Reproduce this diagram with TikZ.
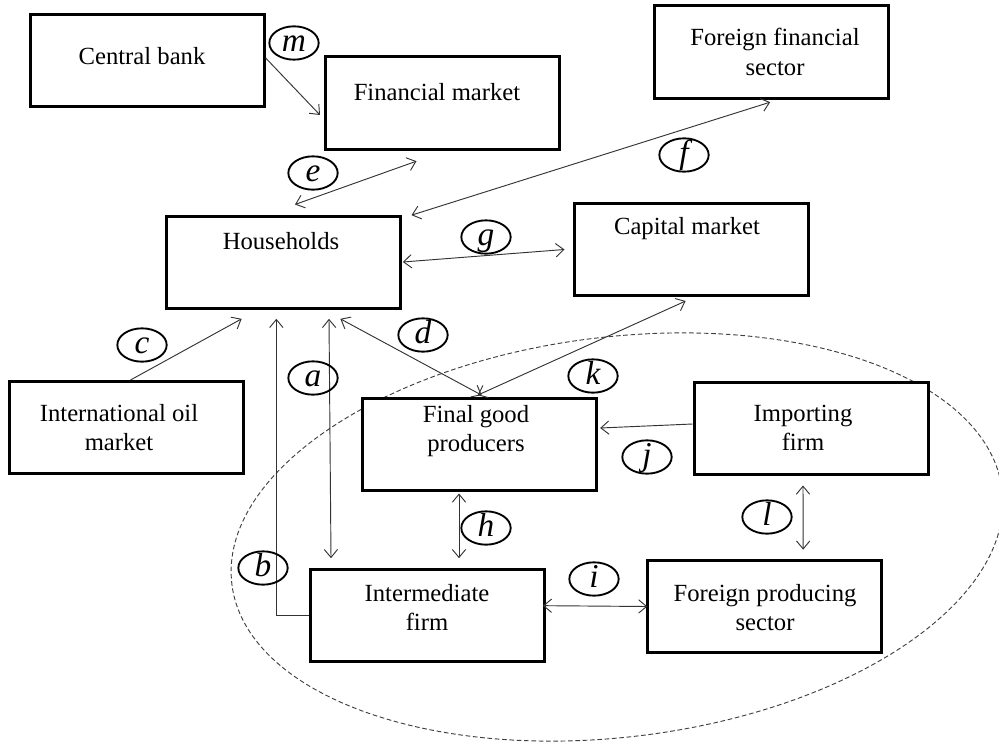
\documentclass[tikz,border=0pt]{standalone}
\usepackage{fontspec}
\setmainfont{Liberation Serif}
\usetikzlibrary{arrows.meta,shapes.geometric}

\tikzset{
  box/.style={draw, fill=white, line width=2.25pt, minimum width=175.5pt, minimum height=69pt, inner sep=0pt},
  boxtext/.style={align=center, inner sep=0pt, font=\fontsize{18.5}{22}\selectfont},
  tag/.style={draw, ellipse, line width=1.4pt, minimum width=37pt, minimum height=25pt, inner sep=-2pt,
    text height=13.5pt, text depth=1pt, font=\fontsize{25}{25}\selectfont\itshape},
  link/.style={line width=0.7pt, draw=black!80, -{Straight Barb[length=6pt,width=10pt]}},
  link2/.style={link, {Straight Barb[length=6pt,width=10pt]}-{Straight Barb[length=6pt,width=10pt]}},
}

\begin{document}
\begin{tikzpicture}[x=0.75pt,y=-0.75pt]

\useasboundingbox (0,0) rectangle (999,742);

% the home economy
\draw [line width=0.7pt, black!75, dash pattern=on 3.5pt off 2pt, rotate around={7:(617,537)}] (617,537) ellipse [x radius=388, y radius=200];

% boxes
\node [box] (cb) at (147,60.5) {};
\node [box] (fm) at (442.5,103) {};
\node [box] (ff) at (771.5,52) {};
\node [box] (hh) at (283,262) {};
\node [box] (cm) at (691,249.5) {};
\node [box] (oil) at (126.5,427.5) {};
\node [box] (fg) at (479,444) {};
\node [box] (imp) at (811,428) {};
\node [box] (im) at (427,615) {};
\node [box] (fp) at (764.5,606.5) {};

\node [boxtext] (cbt) at (142,56) {Central bank};
\node [boxtext] (fmt) at (437,92) {Financial market};
\node [boxtext] (fft) at (775,52) {Foreign financial\\sector};
\node [boxtext] (hht) at (281,241) {Households};
\node [boxtext] (cmt) at (687,229) {Capital market};
\node [boxtext] (oilt) at (119,427.5) {International oil\\market};
\node [boxtext] (fgt) at (476,431) {Final good\\producers};
\node [boxtext] (impt) at (803,427.5) {Importing\\firm};
\node [boxtext] (imt) at (427,607.5) {Intermediate\\firm};
\node [boxtext] (fpt) at (765,607.5) {Foreign producing\\sector};

% flows
\draw [link] ([yshift=2pt]cb.east) -- ([xshift=-3pt,yshift=-9pt]fm.west);
\draw [link2] ([xshift=9pt,yshift=7.5pt]hh.north) -- ([xshift=-19.5pt,yshift=-8pt]fm.south);
\draw [link2] ([xshift=7.5pt,yshift=-0.5pt]hh.north east) -- ([xshift=-1pt,yshift=-2pt]ff.south);
\draw [link2] ([xshift=1pt]hh.east) -- ([xshift=-6pt]cm.west);
\draw [link] ([xshift=3pt]oil.north) -- ([xshift=-31pt,yshift=-7pt]hh.south);
\draw [link] (im.west) -| ([xshift=-5pt,yshift=-7pt]hh.south);
\draw [link2] ([xshift=34.5pt,yshift=-7pt]hh.south) -- ([xshift=-72pt,yshift=7pt]im.north);
\draw [link2] ([xshift=43pt,yshift=-7pt]hh.south) -- ([xshift=2pt,yshift=1pt]fg.north);
\draw [link2] ([xshift=-1pt,yshift=1pt]fg.north) -- ([xshift=-4pt,yshift=-3pt]cm.south);
\draw [link] ([yshift=3pt]imp.west) -- ([xshift=2pt,yshift=12pt]fg.east);
\draw [link2] ([xshift=-15pt,yshift=-1.5pt]fg.south) -- ([xshift=24pt,yshift=7pt]im.north);
\draw [link2] ([xshift=-6pt,yshift=-7.5pt]imp.south) -- ([xshift=29pt,yshift=7pt]fp.north);
\draw [link2] ([xshift=-2pt,yshift=7pt]im.east) -- ([xshift=1pt]fp.west);

% labels
\node [tag] (tm) at (294,43) {m};
\node [tag] (te) at (313,173) {e};
\node [tag] (tf) at (684,155) {f};
\node [tag] (tg) at (486,237) {g};
\node [tag] (tc) at (142,345) {c};
\node [tag] (td) at (423,335) {d};
\node [tag] (ta) at (313,378) {a};
\node [tag] (tk) at (593,376) {k};
\node [tag] (tj) at (647,457) {j};
\node [tag] (th) at (486,528) {h};
\node [tag] (tl) at (767,517) {l};
\node [tag] (tb) at (263,568) {b};
\node [tag] (ti) at (594,579) {i};

\end{tikzpicture}
\end{document}
